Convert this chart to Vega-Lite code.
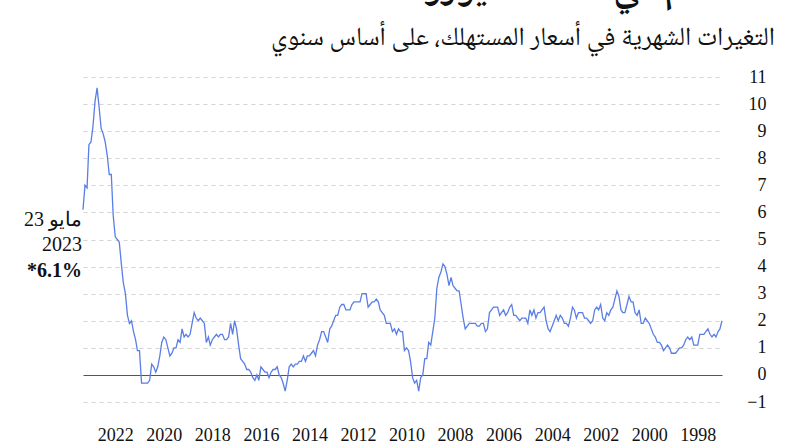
{
"$schema": "https://vega.github.io/schema/vega-lite/v6.json",
"width": 639, "height": 325,
"autosize": {"type": "none"},
"padding": {"left": 83, "top": 77, "right": 70, "bottom": 44},
"background": "white",
"config": {"font": "Liberation Serif", "view": {"stroke": null},
  "axis": {"labelFont": "Liberation Serif", "labelFontSize": 18, "labelColor": "#111", "labelOverlap": false, "domain": false, "ticks": false, "title": null}},
"title": {"text": "التضخم في منطقة اليورو", "subtitle": "التغيرات الشهرية في أسعار المستهلك، على أساس سنوي", "anchor": "end", "frame": "group", "dx": 53, "offset": 18, "subtitlePadding": 17, "fontSize": 38, "fontWeight": "bold", "color": "#111", "font": "Noto Naskh Arabic, Amiri, Noto Sans Arabic, DejaVu Sans, serif", "subtitleFont": "Noto Naskh Arabic, Amiri, Noto Sans Arabic, DejaVu Sans, serif", "subtitleFontSize": 26, "subtitleColor": "#111"},
"data": {"values": [
{"d":"1997/01/01","v":2.0},{"d":"1997/02/01","v":1.7},{"d":"1997/03/01","v":1.6},{"d":"1997/04/01","v":1.4},{"d":"1997/05/01","v":1.5},{"d":"1997/06/01","v":1.4},{"d":"1997/07/01","v":1.5},{"d":"1997/08/01","v":1.7},{"d":"1997/09/01","v":1.6},{"d":"1997/10/01","v":1.5},{"d":"1997/11/01","v":1.5},{"d":"1997/12/01","v":1.5},
{"d":"1998/01/01","v":1.1},{"d":"1998/02/01","v":1.1},{"d":"1998/03/01","v":1.1},{"d":"1998/04/01","v":1.4},{"d":"1998/05/01","v":1.3},{"d":"1998/06/01","v":1.4},{"d":"1998/07/01","v":1.3},{"d":"1998/08/01","v":1.1},{"d":"1998/09/01","v":1.0},{"d":"1998/10/01","v":1.0},{"d":"1998/11/01","v":0.9},{"d":"1998/12/01","v":0.8},
{"d":"1999/01/01","v":0.8},{"d":"1999/02/01","v":0.8},{"d":"1999/03/01","v":1.0},{"d":"1999/04/01","v":1.1},{"d":"1999/05/01","v":1.0},{"d":"1999/06/01","v":0.9},{"d":"1999/07/01","v":1.1},{"d":"1999/08/01","v":1.2},{"d":"1999/09/01","v":1.2},{"d":"1999/10/01","v":1.4},{"d":"1999/11/01","v":1.5},{"d":"1999/12/01","v":1.7},
{"d":"2000/01/01","v":1.9},{"d":"2000/02/01","v":2.0},{"d":"2000/03/01","v":2.1},{"d":"2000/04/01","v":1.9},{"d":"2000/05/01","v":1.9},{"d":"2000/06/01","v":2.4},{"d":"2000/07/01","v":2.2},{"d":"2000/08/01","v":2.3},{"d":"2000/09/01","v":2.7},{"d":"2000/10/01","v":2.7},{"d":"2000/11/01","v":2.9},{"d":"2000/12/01","v":2.6},
{"d":"2001/01/01","v":2.3},{"d":"2001/02/01","v":2.3},{"d":"2001/03/01","v":2.4},{"d":"2001/04/01","v":2.9},{"d":"2001/05/01","v":3.1},{"d":"2001/06/01","v":2.8},{"d":"2001/07/01","v":2.5},{"d":"2001/08/01","v":2.4},{"d":"2001/09/01","v":2.2},{"d":"2001/10/01","v":2.3},{"d":"2001/11/01","v":2.0},{"d":"2001/12/01","v":2.1},
{"d":"2002/01/01","v":2.6},{"d":"2002/02/01","v":2.4},{"d":"2002/03/01","v":2.5},{"d":"2002/04/01","v":2.4},{"d":"2002/05/01","v":2.0},{"d":"2002/06/01","v":1.9},{"d":"2002/07/01","v":2.0},{"d":"2002/08/01","v":2.1},{"d":"2002/09/01","v":2.1},{"d":"2002/10/01","v":2.3},{"d":"2002/11/01","v":2.3},{"d":"2002/12/01","v":2.3},
{"d":"2003/01/01","v":2.1},{"d":"2003/02/01","v":2.4},{"d":"2003/03/01","v":2.5},{"d":"2003/04/01","v":2.1},{"d":"2003/05/01","v":1.8},{"d":"2003/06/01","v":1.9},{"d":"2003/07/01","v":1.9},{"d":"2003/08/01","v":2.1},{"d":"2003/09/01","v":2.2},{"d":"2003/10/01","v":2.0},{"d":"2003/11/01","v":2.2},{"d":"2003/12/01","v":2.0},
{"d":"2004/01/01","v":1.8},{"d":"2004/02/01","v":1.6},{"d":"2004/03/01","v":1.7},{"d":"2004/04/01","v":2.0},{"d":"2004/05/01","v":2.5},{"d":"2004/06/01","v":2.4},{"d":"2004/07/01","v":2.3},{"d":"2004/08/01","v":2.3},{"d":"2004/09/01","v":2.1},{"d":"2004/10/01","v":2.4},{"d":"2004/11/01","v":2.2},{"d":"2004/12/01","v":2.4},
{"d":"2005/01/01","v":1.9},{"d":"2005/02/01","v":2.1},{"d":"2005/03/01","v":2.1},{"d":"2005/04/01","v":2.1},{"d":"2005/05/01","v":2.0},{"d":"2005/06/01","v":2.1},{"d":"2005/07/01","v":2.2},{"d":"2005/08/01","v":2.2},{"d":"2005/09/01","v":2.6},{"d":"2005/10/01","v":2.5},{"d":"2005/11/01","v":2.3},{"d":"2005/12/01","v":2.2},
{"d":"2006/01/01","v":2.4},{"d":"2006/02/01","v":2.3},{"d":"2006/03/01","v":2.2},{"d":"2006/04/01","v":2.5},{"d":"2006/05/01","v":2.5},{"d":"2006/06/01","v":2.5},{"d":"2006/07/01","v":2.4},{"d":"2006/08/01","v":2.3},{"d":"2006/09/01","v":1.7},{"d":"2006/10/01","v":1.6},{"d":"2006/11/01","v":1.9},{"d":"2006/12/01","v":1.9},
{"d":"2007/01/01","v":1.8},{"d":"2007/02/01","v":1.8},{"d":"2007/03/01","v":1.9},{"d":"2007/04/01","v":1.9},{"d":"2007/05/01","v":1.9},{"d":"2007/06/01","v":1.9},{"d":"2007/07/01","v":1.8},{"d":"2007/08/01","v":1.7},{"d":"2007/09/01","v":2.1},{"d":"2007/10/01","v":2.6},{"d":"2007/11/01","v":3.1},{"d":"2007/12/01","v":3.1},
{"d":"2008/01/01","v":3.2},{"d":"2008/02/01","v":3.3},{"d":"2008/03/01","v":3.6},{"d":"2008/04/01","v":3.3},{"d":"2008/05/01","v":3.7},{"d":"2008/06/01","v":4.0},{"d":"2008/07/01","v":4.1},{"d":"2008/08/01","v":3.8},{"d":"2008/09/01","v":3.6},{"d":"2008/10/01","v":3.2},{"d":"2008/11/01","v":2.1},{"d":"2008/12/01","v":1.6},
{"d":"2009/01/01","v":1.1},{"d":"2009/02/01","v":1.2},{"d":"2009/03/01","v":0.6},{"d":"2009/04/01","v":0.6},{"d":"2009/05/01","v":0.0},{"d":"2009/06/01","v":-0.1},{"d":"2009/07/01","v":-0.6},{"d":"2009/08/01","v":-0.2},{"d":"2009/09/01","v":-0.3},{"d":"2009/10/01","v":-0.1},{"d":"2009/11/01","v":0.5},{"d":"2009/12/01","v":0.9},
{"d":"2010/01/01","v":1.0},{"d":"2010/02/01","v":0.9},{"d":"2010/03/01","v":1.6},{"d":"2010/04/01","v":1.6},{"d":"2010/05/01","v":1.7},{"d":"2010/06/01","v":1.5},{"d":"2010/07/01","v":1.7},{"d":"2010/08/01","v":1.6},{"d":"2010/09/01","v":1.9},{"d":"2010/10/01","v":1.9},{"d":"2010/11/01","v":1.9},{"d":"2010/12/01","v":2.2},
{"d":"2011/01/01","v":2.3},{"d":"2011/02/01","v":2.4},{"d":"2011/03/01","v":2.7},{"d":"2011/04/01","v":2.8},{"d":"2011/05/01","v":2.7},{"d":"2011/06/01","v":2.7},{"d":"2011/07/01","v":2.6},{"d":"2011/08/01","v":2.5},{"d":"2011/09/01","v":3.0},{"d":"2011/10/01","v":3.0},{"d":"2011/11/01","v":3.0},{"d":"2011/12/01","v":2.7},
{"d":"2012/01/01","v":2.7},{"d":"2012/02/01","v":2.7},{"d":"2012/03/01","v":2.7},{"d":"2012/04/01","v":2.6},{"d":"2012/05/01","v":2.4},{"d":"2012/06/01","v":2.4},{"d":"2012/07/01","v":2.4},{"d":"2012/08/01","v":2.6},{"d":"2012/09/01","v":2.6},{"d":"2012/10/01","v":2.5},{"d":"2012/11/01","v":2.2},{"d":"2012/12/01","v":2.2},
{"d":"2013/01/01","v":2.0},{"d":"2013/02/01","v":1.8},{"d":"2013/03/01","v":1.7},{"d":"2013/04/01","v":1.2},{"d":"2013/05/01","v":1.4},{"d":"2013/06/01","v":1.6},{"d":"2013/07/01","v":1.6},{"d":"2013/08/01","v":1.3},{"d":"2013/09/01","v":1.1},{"d":"2013/10/01","v":0.7},{"d":"2013/11/01","v":0.9},{"d":"2013/12/01","v":0.8},
{"d":"2014/01/01","v":0.7},{"d":"2014/02/01","v":0.7},{"d":"2014/03/01","v":0.5},{"d":"2014/04/01","v":0.7},{"d":"2014/05/01","v":0.5},{"d":"2014/06/01","v":0.5},{"d":"2014/07/01","v":0.4},{"d":"2014/08/01","v":0.4},{"d":"2014/09/01","v":0.3},{"d":"2014/10/01","v":0.4},{"d":"2014/11/01","v":0.3},{"d":"2014/12/01","v":-0.2},
{"d":"2015/01/01","v":-0.6},{"d":"2015/02/01","v":-0.3},{"d":"2015/03/01","v":-0.1},{"d":"2015/04/01","v":0.0},{"d":"2015/05/01","v":0.3},{"d":"2015/06/01","v":0.2},{"d":"2015/07/01","v":0.2},{"d":"2015/08/01","v":0.1},{"d":"2015/09/01","v":-0.1},{"d":"2015/10/01","v":0.1},{"d":"2015/11/01","v":0.1},{"d":"2015/12/01","v":0.2},
{"d":"2016/01/01","v":0.3},{"d":"2016/02/01","v":-0.2},{"d":"2016/03/01","v":0.0},{"d":"2016/04/01","v":-0.2},{"d":"2016/05/01","v":-0.1},{"d":"2016/06/01","v":0.1},{"d":"2016/07/01","v":0.2},{"d":"2016/08/01","v":0.2},{"d":"2016/09/01","v":0.4},{"d":"2016/10/01","v":0.5},{"d":"2016/11/01","v":0.6},{"d":"2016/12/01","v":1.1},
{"d":"2017/01/01","v":1.7},{"d":"2017/02/01","v":2.0},{"d":"2017/03/01","v":1.5},{"d":"2017/04/01","v":1.9},{"d":"2017/05/01","v":1.4},{"d":"2017/06/01","v":1.3},{"d":"2017/07/01","v":1.3},{"d":"2017/08/01","v":1.5},{"d":"2017/09/01","v":1.5},{"d":"2017/10/01","v":1.4},{"d":"2017/11/01","v":1.5},{"d":"2017/12/01","v":1.4},
{"d":"2018/01/01","v":1.3},{"d":"2018/02/01","v":1.1},{"d":"2018/03/01","v":1.4},{"d":"2018/04/01","v":1.2},{"d":"2018/05/01","v":1.9},{"d":"2018/06/01","v":2.0},{"d":"2018/07/01","v":2.1},{"d":"2018/08/01","v":2.0},{"d":"2018/09/01","v":2.1},{"d":"2018/10/01","v":2.3},{"d":"2018/11/01","v":1.9},{"d":"2018/12/01","v":1.5},
{"d":"2019/01/01","v":1.4},{"d":"2019/02/01","v":1.5},{"d":"2019/03/01","v":1.4},{"d":"2019/04/01","v":1.7},{"d":"2019/05/01","v":1.2},{"d":"2019/06/01","v":1.3},{"d":"2019/07/01","v":1.0},{"d":"2019/08/01","v":1.0},{"d":"2019/09/01","v":0.8},{"d":"2019/10/01","v":0.7},{"d":"2019/11/01","v":1.0},{"d":"2019/12/01","v":1.3},
{"d":"2020/01/01","v":1.4},{"d":"2020/02/01","v":1.2},{"d":"2020/03/01","v":0.7},{"d":"2020/04/01","v":0.3},{"d":"2020/05/01","v":0.1},{"d":"2020/06/01","v":0.3},{"d":"2020/07/01","v":0.4},{"d":"2020/08/01","v":-0.2},{"d":"2020/09/01","v":-0.3},{"d":"2020/10/01","v":-0.3},{"d":"2020/11/01","v":-0.3},{"d":"2020/12/01","v":-0.3},
{"d":"2021/01/01","v":0.9},{"d":"2021/02/01","v":0.9},{"d":"2021/03/01","v":1.3},{"d":"2021/04/01","v":1.6},{"d":"2021/05/01","v":2.0},{"d":"2021/06/01","v":1.9},{"d":"2021/07/01","v":2.2},{"d":"2021/08/01","v":3.0},{"d":"2021/09/01","v":3.4},{"d":"2021/10/01","v":4.1},{"d":"2021/11/01","v":4.9},{"d":"2021/12/01","v":5.0},
{"d":"2022/01/01","v":5.1},{"d":"2022/02/01","v":5.9},{"d":"2022/03/01","v":7.4},{"d":"2022/04/01","v":7.4},{"d":"2022/05/01","v":8.1},{"d":"2022/06/01","v":8.6},{"d":"2022/07/01","v":8.9},{"d":"2022/08/01","v":9.1},{"d":"2022/09/01","v":9.9},{"d":"2022/10/01","v":10.6},{"d":"2022/11/01","v":10.1},{"d":"2022/12/01","v":9.2},
{"d":"2023/01/01","v":8.6},{"d":"2023/02/01","v":8.5},{"d":"2023/03/01","v":6.9},{"d":"2023/04/01","v":7.0},{"d":"2023/05/01","v":6.1}
]},
"encoding": {
  "x": {"field": "d", "type": "temporal", "scale": {"domain": [{"year": 1997, "month": 1, "date": 1}, {"year": 2023, "month": 5, "date": 1}], "reverse": true},
        "axis": {"title": null, "format": "%Y", "values": [{"year": 1998}, {"year": 2000}, {"year": 2002}, {"year": 2004}, {"year": 2006}, {"year": 2008}, {"year": 2010}, {"year": 2012}, {"year": 2014}, {"year": 2016}, {"year": 2018}, {"year": 2020}, {"year": 2022}], "grid": false, "labelPadding": 24, "labelFlush": false}},
  "y": {"field": "v", "type": "quantitative", "scale": {"domain": [-1, 11], "nice": false},
        "axis": {"title": null, "orient": "right", "values": [-1, 0, 1, 2, 3, 4, 5, 6, 7, 8, 9, 10, 11], "labelAlign": "right", "labelPadding": 44, "grid": true,
                 "gridColor": {"condition": {"test": "datum.value === 0", "value": "#555555"}, "value": "#d4d4d4"},
                 "gridDash": {"condition": {"test": "datum.value === 0", "value": []}, "value": [4, 4]}}}
},
"layer": [
{"mark": {"type": "line", "color": "#5a7ee6", "strokeWidth": 1.3}},
{"transform": [{"filter": {"field": "d", "equal": {"year": 2023, "month": 5, "date": 1}}}],
 "mark": {"type": "text", "text": "مايو 23", "align": "right", "baseline": "middle", "dx": -1, "dy": 10, "fontSize": 20, "color": "#111"}},
{"transform": [{"filter": {"field": "d", "equal": {"year": 2023, "month": 5, "date": 1}}}],
 "mark": {"type": "text", "text": "2023", "align": "right", "baseline": "middle", "dx": -1, "dy": 35, "fontSize": 20, "color": "#111"}},
{"transform": [{"filter": {"field": "d", "equal": {"year": 2023, "month": 5, "date": 1}}}],
 "mark": {"type": "text", "text": "*6.1%", "align": "right", "baseline": "middle", "dx": -1, "dy": 61, "fontSize": 20, "fontWeight": "bold", "color": "#111"}}
]
}
